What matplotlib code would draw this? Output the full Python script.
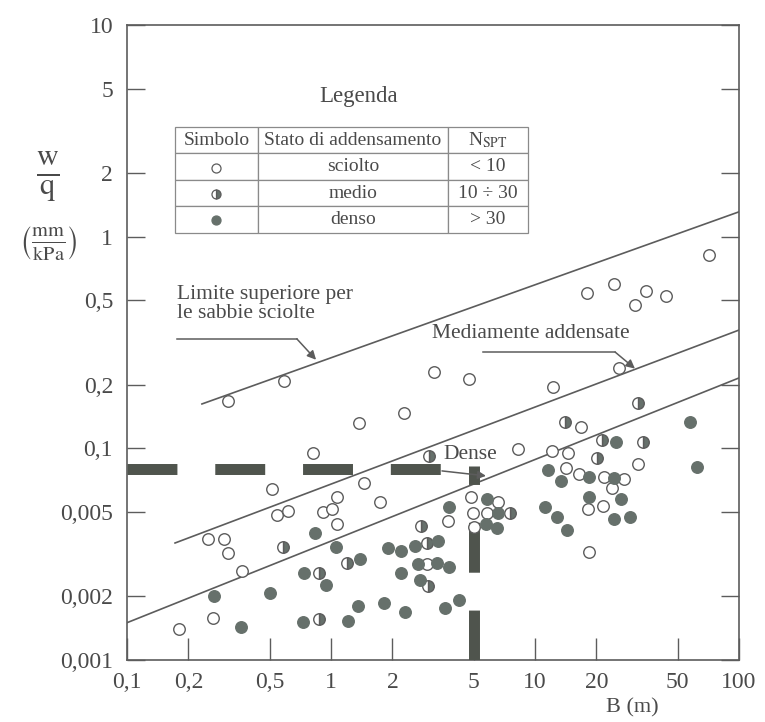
import matplotlib
matplotlib.use('Agg')
import matplotlib.pyplot as plt
from matplotlib.ticker import NullLocator

plt.rcParams['font.family'] = ['Liberation Serif', 'DejaVu Serif']
plt.rcParams['mathtext.fontset'] = 'stix'

TEXT = '#4a4a4a'
LINE = '#5c5c5c'
BAR = '#4f544d'
FILL = '#66706b'

# ---------------- data ----------------
x_ticks = [0.1, 0.2, 0.5, 1, 2, 5, 10, 20, 50, 100]
x_ticklabels = ['0,1', '0,2', '0,5', '1', '2', '5', '10', '20', '50', '100']
y_ticks = [0.01, 0.02, 0.05, 0.1, 0.2, 0.5, 1, 2, 5, 10]
y_ticklabels = ['0,001', '0,002', '0,005', '0,1', '0,2', '0,5', '1', '2', '5', '10']

# sciolto (open circles)
sciolto_B = [0.180, 0.264, 0.249, 0.299, 0.313, 0.366, 0.313, 0.589, 0.514, 0.543,
             0.616, 0.816, 0.914, 1.01, 1.07, 1.07, 1.45, 1.74, 1.37, 2.28,
             3.20, 4.75, 4.86, 4.97, 3.75, 5.02, 2.96, 6.59, 5.82, 8.26,
             12.1, 14.5, 12.2, 16.8, 14.2, 16.4, 21.8, 27.3, 23.8, 18.2,
             21.5, 18.4, 25.8, 32.0, 18.0, 24.4, 35.0, 30.9, 43.9, 71.3]
sciolto_wq = [0.0140, 0.0158, 0.0373, 0.0373, 0.0321, 0.0264, 0.1675, 0.208, 0.0643, 0.0485,
              0.0506, 0.0951, 0.0501, 0.0517, 0.0589, 0.0440, 0.0686, 0.0558, 0.132, 0.147,
              0.230, 0.213, 0.0589, 0.0495, 0.0454, 0.0425, 0.0284, 0.0558, 0.0495, 0.0994,
              0.0973, 0.0951, 0.195, 0.126, 0.0808, 0.0757, 0.0733, 0.0717, 0.065, 0.0517,
              0.0535, 0.0324, 0.240, 0.0844, 0.542, 0.598, 0.554, 0.476, 0.525, 0.82]

# medio (half-filled)
medio_B = [0.582, 0.873, 0.873, 3.02, 2.76, 2.96, 1.20, 2.99, 7.54, 14.0, 21.3, 20.1, 32.0, 33.8]
medio_wq = [0.0342, 0.0258, 0.0156, 0.0920, 0.0430, 0.0357, 0.0288, 0.0224, 0.0495, 0.133,
            0.1096, 0.0901, 0.164, 0.107]

# denso (filled)
denso_B = [0.267, 0.362, 0.502, 0.729, 0.835, 0.737, 0.945, 1.06, 1.39, 1.90,
           2.20, 2.58, 3.35, 3.79, 2.67, 3.31, 3.79, 2.20, 2.73, 1.36,
           1.82, 2.31, 3.62, 4.24, 1.21, 5.82, 6.59, 5.75, 6.51, 11.2,
           12.8, 14.4, 11.6, 13.4, 18.4, 24.4, 24.9, 18.4, 26.4, 24.4,
           29.2, 57.5, 62.2]
denso_wq = [0.0201, 0.0143, 0.0207, 0.0151, 0.0398, 0.0258, 0.0226, 0.0342, 0.0300, 0.0339,
            0.0328, 0.0346, 0.0365, 0.0529, 0.0284, 0.0288, 0.0275, 0.0258, 0.0239, 0.0180,
            0.0186, 0.0169, 0.0176, 0.0192, 0.0153, 0.0577, 0.0495, 0.0440, 0.0421, 0.0529,
            0.0474, 0.0412, 0.0791, 0.0702, 0.0733, 0.0725, 0.107, 0.0589, 0.0577, 0.0464,
            0.0474, 0.133, 0.0817]

# limit lines (B, w/q end points)
upper_B = [0.233, 100]
upper_wq = [0.162, 1.31]
middle_B = [0.172, 100]
middle_wq = [0.0357, 0.362]
lower_B = [0.1, 100]
lower_wq = [0.0150, 0.215]

# thick dashed reference lines
ref_wq = 0.08
ref_B = 5

table_cols = ['Simbolo', 'Stato di addensamento', r'N$_{\mathrm{SPT}}$']
table_states = ['sciolto', 'medio', 'denso']
table_nspt = ['< 10', '10 ÷ 30', '> 30']

# ---------------- figure ----------------
fig = plt.figure(figsize=(7.65, 7.22), dpi=100)
ax = fig.add_axes([0.166, 0.0859, 0.800, 0.8795])
ax.set_xscale('log')
ax.set_yscale('log')
ax.set_xlim(0.1, 100)
ax.set_ylim(0.01, 10)

ax.set_xticks(x_ticks)
ax.set_xticklabels(x_ticklabels)
ax.set_yticks(y_ticks)
ax.set_yticklabels(y_ticklabels)
ax.xaxis.set_minor_locator(NullLocator())
ax.yaxis.set_minor_locator(NullLocator())
ax.tick_params(axis='x', direction='in', length=16, width=1, colors=LINE,
               labelcolor=TEXT, labelsize=17, pad=9, top=False)
ax.tick_params(axis='y', direction='in', length=13, width=1, colors=LINE,
               labelcolor=TEXT, labelsize=17, pad=10, right=True, labelright=False)
for s in ax.spines.values():
    s.set_color(LINE)
    s.set_linewidth(1.2)

# limit lines
for bx, wy in [(upper_B, upper_wq), (middle_B, middle_wq), (lower_B, lower_wq)]:
    ax.plot(bx, wy, color=LINE, lw=1.2, zorder=2)

# thick dashed bars
lw_bar = 7.9
ax.plot([0.1, ref_B], [ref_wq, ref_wq], color=BAR, lw=lw_bar,
        dashes=(4.55, 3.45), solid_capstyle='butt', dash_capstyle='butt', zorder=3)
ax.plot([ref_B, ref_B], [0.01, ref_wq * 1.03], color=BAR, lw=lw_bar,
        dashes=(4.55, 3.45), solid_capstyle='butt', dash_capstyle='butt', zorder=3)

# data markers
ms = 8.3
ax.plot(sciolto_B, sciolto_wq, ls='none', marker='o', ms=ms, mfc='white',
        mec=LINE, mew=1.0, zorder=4)
ax.plot(medio_B, medio_wq, ls='none', marker='o', ms=ms, fillstyle='right',
        mfc=FILL, mfcalt='white', mec=LINE, mew=1.0, zorder=4)
ax.plot(denso_B, denso_wq, ls='none', marker='o', ms=ms, mfc=FILL,
        mec=FILL, mew=1.0, zorder=4)

# annotations
fs_ann = 15.5
ax.text(0.176, 0.48, 'Limite superiore per\nle sabbie sciolte', fontsize=fs_ann,
        color=TEXT, ha='left', va='center', linespacing=0.95)
ax.plot([0.176, 0.68], [0.329, 0.329], color=LINE, lw=1.1)
ax.annotate('', xy=(0.845, 0.262), xytext=(0.68, 0.329),
            arrowprops=dict(arrowstyle='-|>', color=LINE, lw=1.1,
                            mutation_scale=13, shrinkA=0, shrinkB=0))

ax.text(3.13, 0.35, 'Mediamente addensate', fontsize=fs_ann, color=TEXT,
        ha='left', va='center')
ax.plot([5.56, 24.7], [0.285, 0.285], color=LINE, lw=1.1)
ax.annotate('', xy=(30.9, 0.238), xytext=(24.7, 0.285),
            arrowprops=dict(arrowstyle='-|>', color=LINE, lw=1.1,
                            mutation_scale=13, shrinkA=0, shrinkB=0))

ax.text(3.54, 0.094, 'Dense', fontsize=fs_ann, color=TEXT, ha='left', va='center')
ax.annotate('', xy=(5.75, 0.0741), xytext=(3.5, 0.0782),
            arrowprops=dict(arrowstyle='-|>', color=LINE, lw=1.1,
                            mutation_scale=12, shrinkA=0, shrinkB=0))

# legend table
ax.text(0.379, 0.8866, 'Legenda', transform=ax.transAxes, fontsize=16.5,
        color=TEXT, ha='center', va='center')
cell_text = [['', st, n] for st, n in zip(table_states, table_nspt)]
tab = ax.table(cellText=cell_text, colLabels=table_cols, cellLoc='center',
               colWidths=[83, 190, 80], bbox=[0.0784, 0.6724, 0.5766, 0.167])
tab.auto_set_font_size(False)
tab.set_fontsize(14)
for (r, c), cell in tab.get_celld().items():
    cell.set_edgecolor('#8a8a8a')
    cell.set_linewidth(0.9)
    cell.set_facecolor('white')
    cell.get_text().set_color(TEXT)
    cell.get_text().set_fontfamily(['Liberation Serif', 'DejaVu Serif'])
tab.set_zorder(5)

sym_x = 0.146
sym_y = [0.775, 0.734, 0.693]
kw = dict(transform=ax.transAxes, ls='none', marker='o', ms=6.5, zorder=6, clip_on=False)
ax.plot([sym_x], [sym_y[0]], mfc='white', mec=LINE, mew=0.9, **kw)
ax.plot([sym_x], [sym_y[1]], fillstyle='right', mfc=FILL, mfcalt='white', mec=LINE, mew=0.9, **kw)
ax.plot([sym_x], [sym_y[2]], mfc=FILL, mec=FILL, mew=0.9, **kw)

# axis labels
fig.text(0.063, 0.755, r'$\frac{\mathrm{w}}{\mathrm{q}}$', fontsize=31, color=TEXT,
         ha='center', va='center')
fig.text(0.063, 0.663, r'$\left(\frac{\mathrm{mm}}{\mathrm{kPa}}\right)$', fontsize=21,
         color=TEXT, ha='center', va='center')
fig.text(0.826, 0.019, 'B (m)', fontsize=16, color=TEXT, ha='center', va='center')

fig.savefig('out.png', dpi=100, facecolor='white')
